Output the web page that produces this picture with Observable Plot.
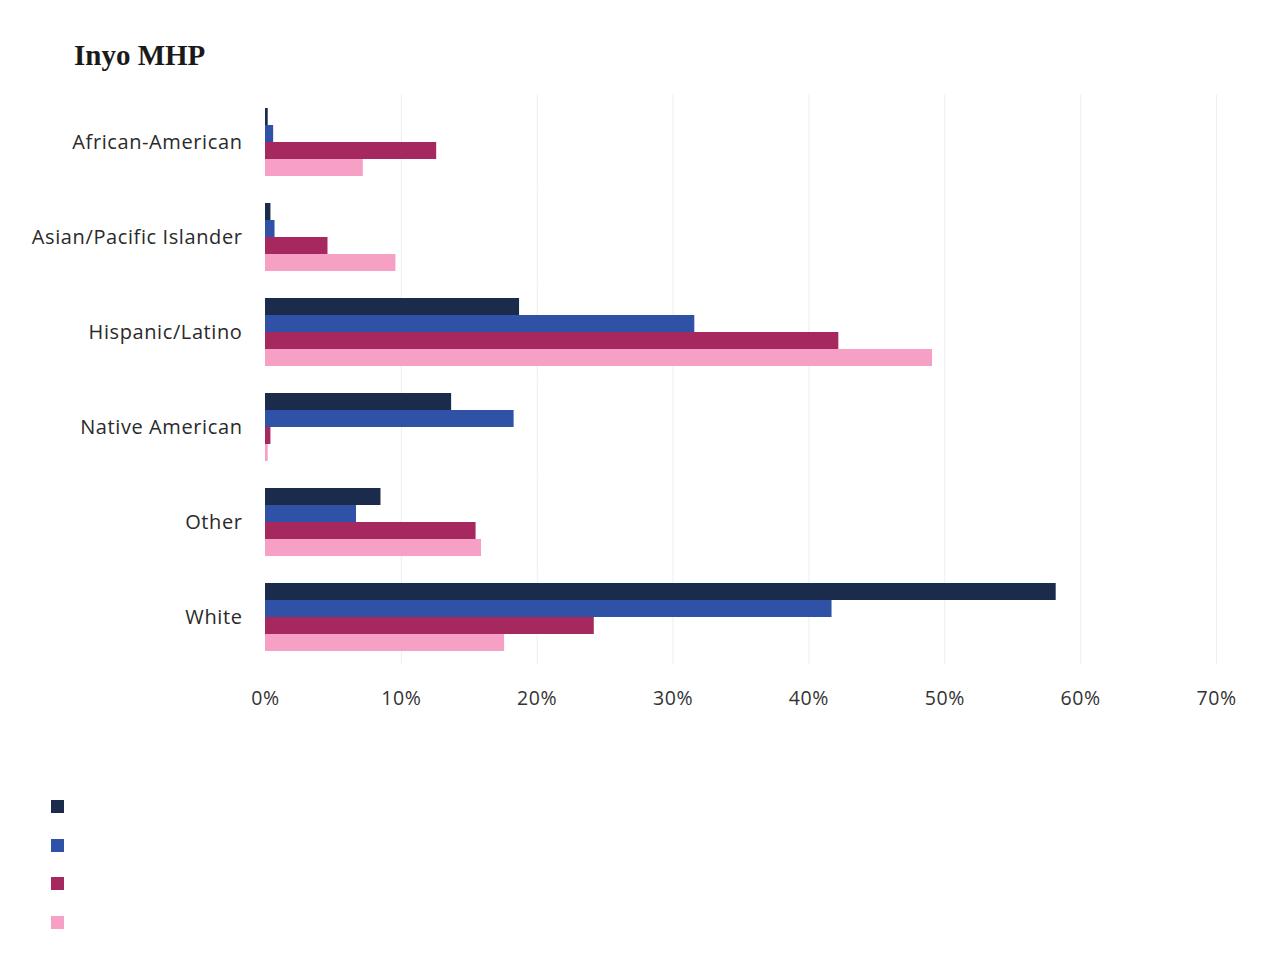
<!DOCTYPE html>
<html>
<head>
<meta charset="utf-8">
<script src="https://cdn.jsdelivr.net/npm/d3@7"></script>
<script src="https://cdn.jsdelivr.net/npm/@observablehq/plot@0.6"></script>
<style>
  html, body { margin: 0; padding: 0; background: #fff; }
  body { width: 1266px; height: 972px; position: relative; overflow: hidden; }
  #title { position: absolute; left: 74px; top: 41px; font-family: "Liberation Serif", serif; font-weight: bold; font-size: 29px; line-height: 29px; color: #1a1a1a; }
  #chart { position: absolute; left: 0; top: 90px; }
  #legend { position: absolute; left: 51px; top: 800px; }
  .sw { width: 13px; height: 13px; margin-bottom: 25.5px; }
</style>
</head>
<body>
<div id="title">Inyo MHP</div>
<div id="chart"></div>
<div id="legend"></div>
<script>
const categories = ["African-American", "Asian/Pacific Islander", "Hispanic/Latino", "Native American", "Other", "White"];
const seriesKeys = ["s1", "s2", "s3", "s4"];
const seriesColors = ["#1b2b4b", "#2f51a6", "#a5295f", "#f7a0c5"];
const series1 = [0.2, 0.4, 18.7, 13.7, 8.5, 58.2];
const series2 = [0.6, 0.7, 31.6, 18.3, 6.7, 41.7];
const series3 = [12.6, 4.6, 42.2, 0.4, 15.5, 24.2];
const series4 = [7.2, 9.6, 49.1, 0.2, 15.9, 17.6];
const xTicks = [0, 10, 20, 30, 40, 50, 60, 70];

const allSeries = [series1, series2, series3, series4];
const data = [];
categories.forEach((c, i) => {
  allSeries.forEach((s, j) => data.push({category: c, series: seriesKeys[j], value: s[i]}));
});

const chart = Plot.plot({
  width: 1266,
  height: 640,
  marginTop: 4,
  marginBottom: 64,
  marginLeft: 265,
  marginRight: 50,
  style: {fontFamily: "Open Sans, sans-serif", background: "transparent", letterSpacing: "0.6px"},
  x: {domain: [0, 70], ticks: xTicks, tickFormat: d => d + "%", label: null, axis: null},
  y: {domain: seriesKeys, axis: null, padding: 0},
  fy: {domain: categories, paddingInner: 0.26, paddingOuter: 0.13, label: null, axis: null},
  color: {domain: seriesKeys, range: seriesColors},
  marks: [
    Plot.ruleX(xTicks.slice(1), {x: d => d, stroke: "#eeeeee", strokeWidth: 1, insetTop: -12.5, insetBottom: -12.5}),
    Plot.barX(data, {fy: "category", y: "series", x: "value", fill: "series"}),
    Plot.axisX({ticks: xTicks, tickFormat: d => d + "%", tickSize: 0, tickPadding: 39, fontSize: 19.5, fill: "#333", label: null, anchor: "bottom"}),
    Plot.axisFy({tickSize: 0, tickPadding: 23, fontSize: 20, fill: "#2a2a2a", label: null, anchor: "left"})
  ]
});
document.getElementById("chart").appendChild(chart);

const legend = document.getElementById("legend");
seriesColors.forEach(c => {
  const d = document.createElement("div");
  d.className = "sw";
  d.style.background = c;
  legend.appendChild(d);
});
</script>
</body>
</html>
